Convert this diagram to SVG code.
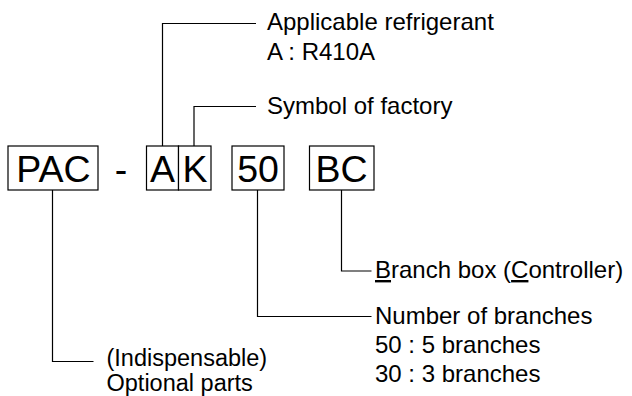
<svg xmlns="http://www.w3.org/2000/svg" width="632" height="396" viewBox="0 0 632 396">
<style>
.box{fill:#fff;stroke:#000;stroke-width:1.2}
.big{font-family:"Liberation Sans",Arial,sans-serif;font-size:37.5px;fill:#000;text-anchor:middle}
.lbl{font-family:"Liberation Sans",Arial,sans-serif;font-size:24px;fill:#000}
.sm{font-size:23.5px}
.ln{fill:none;stroke:#000;stroke-width:1.2}
</style>
<rect width="632" height="396" fill="#fff"/>
<g id="connectors">
<polyline class="ln" points="162.5,146 162.5,23.5 256,23.5"/>
<polyline class="ln" points="194,146 194,106.5 256,106.5"/>
<polyline class="ln" points="52.5,190 52.5,361.5 93.5,361.5"/>
<polyline class="ln" points="257.5,190 257.5,316.5 371.5,316.5"/>
<polyline class="ln" points="341.5,190 341.5,271 371.5,271"/>
</g>
<g id="node-PAC">
<rect class="box" x="8" y="146" width="90" height="44"/>
<text class="big" x="53.5" y="181.5">PAC</text>
</g>
<g id="node-dash">
<text class="big" x="121" y="181.5">-</text>
</g>
<g id="node-A">
<rect class="box" x="146.5" y="146" width="32" height="44"/>
<text class="big" x="162.5" y="181.5">A</text>
</g>
<g id="node-K">
<rect class="box" x="178.5" y="146" width="32.5" height="44"/>
<text class="big" x="195" y="181.5">K</text>
</g>
<g id="node-50">
<rect class="box" x="232" y="146" width="52" height="44"/>
<text class="big" x="258" y="181.5">50</text>
</g>
<g id="node-BC">
<rect class="box" x="309.5" y="146" width="64.5" height="44"/>
<text class="big" x="341.5" y="181.5">BC</text>
</g>
<g id="label-refrigerant">
<text class="lbl" x="267" y="29.5">Applicable refrigerant</text>
<text class="lbl" x="267" y="60">A : R410A</text>
</g>
<g id="label-factory">
<text class="lbl" x="267" y="113.5">Symbol of factory</text>
</g>
<g id="label-branchbox">
<text class="lbl" x="375" y="278"><tspan style="text-decoration:underline">B</tspan>ranch box (<tspan style="text-decoration:underline">C</tspan>ontroller)</text>
</g>
<g id="label-branches">
<text class="lbl" x="375" y="323.5">Number of branches</text>
<text class="lbl" x="375" y="353">50 : 5 branches</text>
<text class="lbl" x="375" y="382">30 : 3 branches</text>
</g>
<g id="label-optional">
<text class="lbl sm" x="106.5" y="366">(Indispensable)</text>
<text class="lbl sm" x="106.5" y="390.5">Optional parts</text>
</g>
</svg>
